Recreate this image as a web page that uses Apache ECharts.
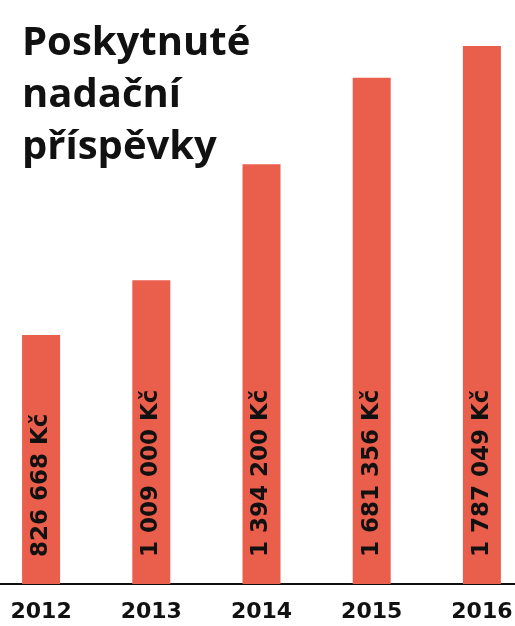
<!DOCTYPE html>
<html>
<head>
<meta charset="utf-8">
<script src="https://cdn.jsdelivr.net/npm/echarts@6/dist/echarts.min.js"></script>
<style>
  html, body { margin: 0; padding: 0; background: #fff; overflow: hidden; }
  #wrap { width: 515px; height: 626px; overflow: hidden; position: relative; }
  /* chart is wider than the window so the category bands match the original spacing */
  #chart { width: 551px; height: 626px; position: absolute; left: -14px; top: 0; }
</style>
</head>
<body>
<div id="wrap"><div id="chart"></div></div>
<script>
const years = ["2012", "2013", "2014", "2015", "2016"];
const amounts = [826668, 1009000, 1394200, 1681356, 1787049];

const fmt = (v) => String(v).replace(/\B(?=(\d{3})+(?!\d))/g, " ") + " Kč";

const chart = echarts.init(document.getElementById("chart"), null, { renderer: "canvas" });

chart.setOption({
  animation: false,
  title: {
    text: "Poskytnuté\nnadační\npříspěvky",
    left: 31,
    top: 13,
    textStyle: {
      fontFamily: "Open Sans",
      fontWeight: "bold",
      fontSize: 40,
      lineHeight: 52,
      color: "#111"
    }
  },
  grid: { left: 0, right: 0, top: 8, bottom: 42 },
  xAxis: {
    type: "category",
    data: years,
    axisLine: { lineStyle: { color: "#111", width: 2 } },
    axisTick: { show: false },
    axisLabel: {
      color: "#111",
      fontFamily: "DejaVu Sans",
      fontWeight: "bold",
      fontSize: 22,
      margin: 17
    }
  },
  yAxis: {
    type: "value",
    min: 0,
    max: 1913000,
    show: false,
    splitLine: { show: false }
  },
  series: [
    {
      type: "bar",
      data: amounts,
      barWidth: 38,
      itemStyle: { color: "#EA5E4C" },
      label: {
        show: true,
        position: "insideBottom",
        rotate: 90,
        align: "left",
        verticalAlign: "middle",
        distance: 27,
        color: "#111",
        fontFamily: "DejaVu Sans",
        fontWeight: "bold",
        fontSize: 23,
        formatter: (p) => fmt(p.value)
      }
    }
  ]
});
</script>
</body>
</html>
